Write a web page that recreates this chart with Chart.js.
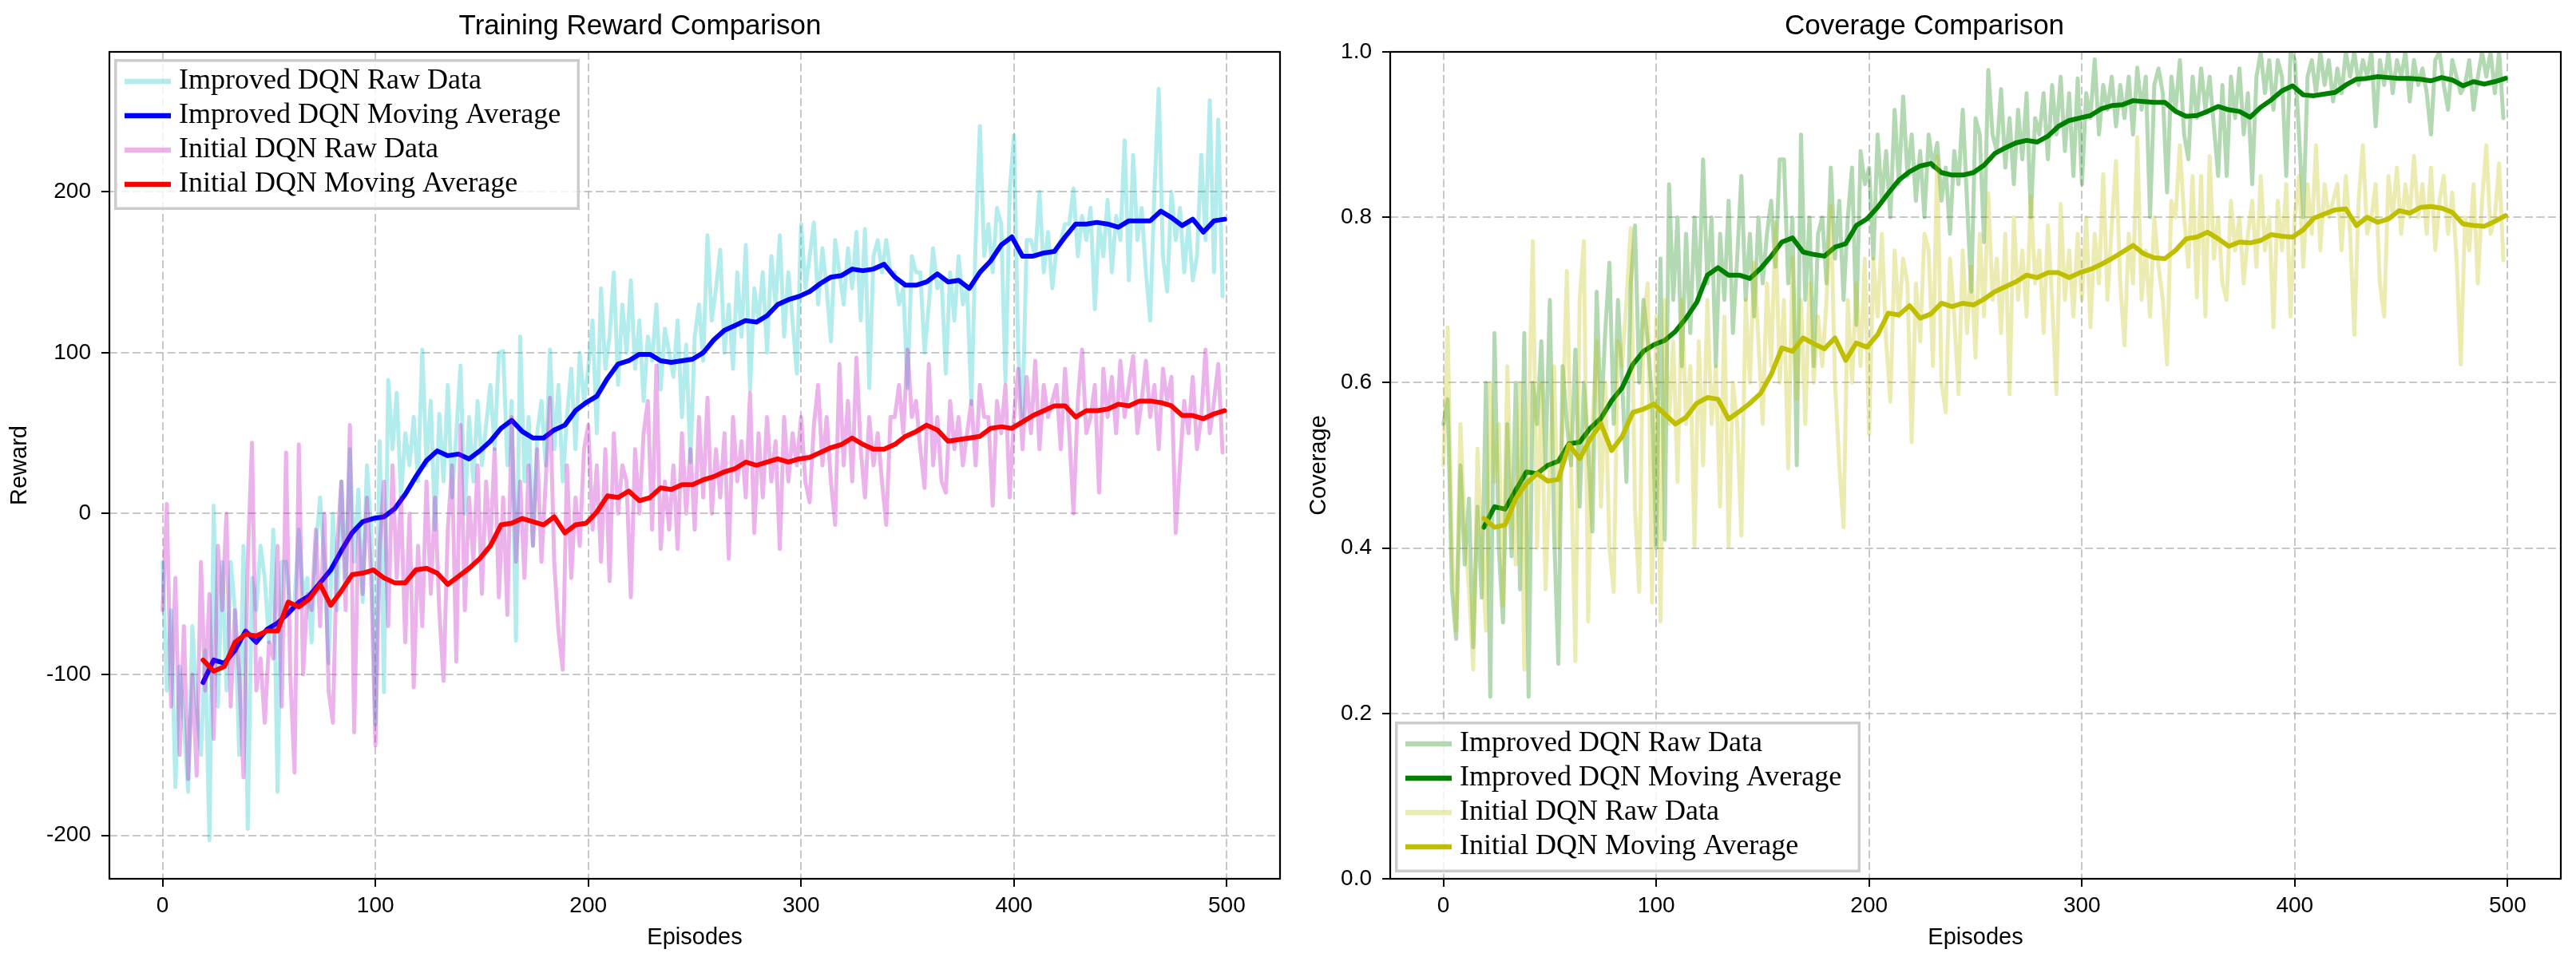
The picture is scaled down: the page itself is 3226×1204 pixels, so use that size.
<!DOCTYPE html>
<html>
<head>
<meta charset="utf-8">
<title>Training Reward / Coverage Comparison</title>
<script src="https://cdn.jsdelivr.net/npm/chart.js@4.4.1/dist/chart.umd.min.js"></script>
<style>
  html, body { margin: 0; padding: 0; background: #fff; overflow: hidden; }
  body { width: 3226px; height: 1204px; position: relative; }
  .panel { position: absolute; top: 0; height: 1204px; }
  #left-panel { left: 0; width: 1740px; }
  #right-panel { left: 1613px; width: 1722px; }
</style>
</head>
<body>
<div class="panel" id="left-panel"><canvas id="rewardChart"></canvas></div>
<div class="panel" id="right-panel"><canvas id="coverageChart"></canvas></div>
<script>
// raw values are read every 2 episodes, moving averages every 5 episodes from episode 19
const rawStep = 2;
const maStart = 19;
const maStep = 5;

const episodeTicks = [0, 100, 200, 300, 400, 500];
const rewardTicks = [-200, -100, 0, 100, 200];
const coverageTicks = [0.0, 0.2, 0.4, 0.6, 0.8, 1.0];

const seriesLabels = [
    "Improved DQN Raw Data",
    "Improved DQN Moving Average",
    "Initial DQN Raw Data",
    "Initial DQN Moving Average",
];

const improvedRewardRaw = [
    -30, -110, -60, -170, -95, -130, -173, -70, -120, -150,
    -85, -203, 5, -120, -30, -110, -30, -60, -150, -20,
    -196, -40, -60, -20, -40, -80, -10, -173, -30, -30,
    -60, -55, -10, -50, -40, -80, -20, 10, -30, -93,
    0, -60, 20, -40, 40, -30, 15, -55, 30, -10,
    -131, 45, -111, 83, 40, 75, 10, 50, 30, 60,
    20, 102, 30, 70, -10, 62, 20, 80, 10, 50,
    92, 0, 60, 20, 70, 30, 55, 80, 40, 100,
    101, 30, 70, -79, 110, 20, 60, -20, 50, 70,
    30, 102, 40, 80, 20, 60, 90, 40, 100, 70,
    90, 120, 50, 140, 90, 110, 150, 80, 130, 100,
    145, 90, 120, 70, 110, 95, 130, 77, 115, 100,
    85, 120, 60, 105, 32, 110, 130, 95, 173, 120,
    140, 164, 100, 130, 90, 150, 110, 167, 77, 140,
    120, 150, 100, 160, 130, 173, 110, 150, 120, 87,
    180, 140, 160, 181, 130, 165, 140, 107, 170, 150,
    130, 165, 140, 175, 120, 177, 78, 160, 170, 150,
    170, 150, 150, 130, 140, 78, 160, 150, 150, 100,
    130, 165, 140, 145, 87, 150, 120, 160, 130, 140,
    68, 170, 241, 160, 180, 150, 190, 180, 82, 200,
    235, 100, 60, 170, 170, 160, 200, 150, 175, 140,
    165, 170, 180, 180, 202, 160, 185, 170, 190, 127,
    180, 160, 195, 150, 185, 170, 232, 145, 223, 170,
    190, 150, 120, 200, 264, 160, 138, 200, 170, 190,
    150, 180, 145, 160, 223, 170, 257, 150, 245, 135,
];

const initialRewardRaw = [
    -60, 6, -120, -40, -150, -70, -165, -100, -163, -30,
    -110, -50, -140, -20, -60, 0, -120, -60, -100, -164,
    -30, 44, -110, -90, -130, -80, -90, -20, -120, 38,
    -100, -161, 43, -100, -50, -60, -10, -70, 0, -110,
    -130, -20, 20, -60, 55, -136, -10, -50, 10, -40,
    -144, -20, 20, -70, 30, -40, 10, -80, 0, -108,
    -20, -70, 20, -50, 10, -60, -104, -10, 30, -92,
    55, -60, 10, -30, 30, -50, 20, -20, 40, -52,
    10, -63, 60, -30, 20, -40, 30, -20, 40, -30,
    20, 72, -30, -73, -97, 30, -40, 10, -20, 40,
    55, -10, 30, -30, 40, -42, 50, 0, 30, 20,
    -52, 40, 0, 50, 70, -10, 92, -22, 20, -10,
    30, -22, 50, 0, 40, -10, 60, 10, 72, 0,
    40, 10, 50, -28, 60, 20, 45, 10, 75, -12,
    50, 10, 60, 20, 45, -22, 60, 20, 50, 30,
    60, 20, 7, 55, 80, 30, 60, 20, -7, 93,
    30, 70, 20, 97, 40, 10, 60, 30, 50, 20,
    -7, 60, 60, 80, 50, 102, 60, 70, 40, 16,
    93, 30, 60, 20, 13, 70, 40, 60, 30, 50,
    70, 30, 80, 60, 60, 5, 70, 50, 80, 10,
    60, 90, 40, 85, 50, 95, 40, 80, 60, 70,
    80, 40, 90, 50, 0, 70, 102, 50, 60, 80,
    13, 90, 60, 85, 50, 95, 60, 80, 98, 50,
    70, 95, 60, 80, 40, 90, 70, 85, -12, 30,
    70, 50, 85, 40, 60, 102, 50, 70, 93, 38,
];

const improvedRewardAvg = [
    -105, -91, -93, -85, -73, -80, -72, -68, -62, -55,
    -51, -43, -35, -23, -12, -5, -3, -2, 3, 12,
    23, 33, 39, 36, 37, 34, 39, 45, 53, 58,
    51, 47, 47, 52, 55, 64, 69, 73, 84, 93,
    95, 99, 99, 95, 94, 95, 96, 100, 108, 114,
    117, 120, 119, 123, 130, 133, 135, 138, 143, 147,
    148, 152, 151, 152, 155, 147, 142, 142, 144, 149,
    144, 145, 140, 150, 157, 167, 172, 160, 160, 162,
    163, 172, 180, 180, 181, 180, 178, 182, 182, 182,
    188, 184, 179, 183, 175, 182, 183,
];

const initialRewardAvg = [
    -91, -98, -95, -80, -75, -76, -73, -73, -55, -58,
    -53, -44, -57, -48, -38, -37, -35, -40, -43, -43,
    -35, -34, -37, -44, -39, -34, -28, -20, -7, -6,
    -3, -5, -7, -2, -12, -7, -6, 1, 11, 10,
    14, 8, 10, 16, 15, 18, 18, 21, 23, 26,
    28, 32, 30, 32, 34, 32, 34, 35, 38, 41,
    43, 47, 43, 40, 40, 43, 48, 51, 55, 52,
    45, 46, 47, 48, 53, 54, 53, 57, 61, 64,
    67, 67, 60, 64, 64, 65, 68, 67, 70, 70,
    69, 67, 61, 61, 59, 62, 64,
];

const improvedCoverageRaw = [
    0.55, 0.58, 0.35, 0.29, 0.50, 0.38, 0.46, 0.28, 0.45, 0.34,
    0.60, 0.22, 0.66, 0.40, 0.31, 0.55, 0.39, 0.60, 0.35, 0.66,
    0.22, 0.60, 0.55, 0.65, 0.50, 0.70, 0.42, 0.26, 0.62, 0.55,
    0.50, 0.64, 0.45, 0.60, 0.52, 0.42, 0.71, 0.55, 0.66, 0.745,
    0.55, 0.70, 0.60, 0.48, 0.72, 0.79, 0.60, 0.70, 0.65, 0.58,
    0.40, 0.75, 0.41, 0.84, 0.70, 0.80, 0.62, 0.78, 0.66, 0.80,
    0.70, 0.87, 0.72, 0.80, 0.62, 0.78, 0.70, 0.82, 0.66, 0.75,
    0.85, 0.70, 0.78, 0.68, 0.80, 0.72, 0.78, 0.82, 0.74, 0.87,
    0.87, 0.72, 0.80, 0.50, 0.90, 0.70, 0.80, 0.62, 0.78, 0.80,
    0.72, 0.86, 0.75, 0.82, 0.70, 0.80, 0.86, 0.67, 0.88, 0.84,
    0.86, 0.75, 0.90, 0.82, 0.88, 0.80, 0.93, 0.84, 0.946, 0.85,
    0.90, 0.82, 0.88, 0.80, 0.90, 0.86, 0.89, 0.82, 0.86, 0.78,
    0.88, 0.84, 0.93, 0.82, 0.71, 0.92, 0.90, 0.77, 0.978, 0.90,
    0.88, 0.955, 0.86, 0.92, 0.84, 0.93, 0.87, 0.95, 0.80, 0.92,
    0.90, 0.95, 0.87, 0.96, 0.90, 0.97, 0.88, 0.95, 0.85, 0.968,
    0.84, 0.95, 0.92, 0.991, 0.90, 0.96, 0.93, 0.97, 0.91, 0.96,
    0.92, 0.97, 0.90, 0.981, 0.93, 0.97, 0.80, 0.96, 0.98, 0.95,
    0.83, 0.97, 0.93, 0.99, 0.90, 0.87, 0.97, 0.92, 0.98, 0.93,
    0.97, 0.91, 0.85, 0.96, 0.85, 0.97, 0.92, 0.98, 0.90, 0.95,
    0.84, 0.97, 1.0, 0.95, 0.99, 0.93, 0.99, 0.97, 0.85, 1.0,
    0.99, 0.90, 0.80, 0.97, 0.99, 0.95, 1.0, 0.96, 0.99, 0.94,
    0.98, 0.95, 1.0, 0.97, 1.0, 0.96, 0.99, 0.97, 1.0, 0.91,
    0.99, 0.96, 1.0, 0.95, 0.99, 0.97, 1.0, 0.94, 0.99, 0.96,
    0.98, 0.95, 0.90, 0.99, 1.0, 0.96, 0.93, 0.99, 0.97, 0.95,
    0.96, 0.99, 0.93, 0.97, 1.0, 0.97, 1.0, 0.95, 1.0, 0.92,
];

const initialCoverageRaw = [
    0.50, 0.667, 0.40, 0.30, 0.55, 0.42, 0.35, 0.253, 0.52, 0.40,
    0.30, 0.60, 0.48, 0.55, 0.33, 0.62, 0.45, 0.38, 0.60, 0.253,
    0.55, 0.771, 0.40, 0.60, 0.35, 0.50, 0.62, 0.40, 0.55, 0.735,
    0.50, 0.263, 0.70, 0.771, 0.311, 0.55, 0.65, 0.45, 0.60, 0.40,
    0.347, 0.65, 0.62, 0.70, 0.787, 0.45, 0.347, 0.68, 0.72, 0.334,
    0.68, 0.311, 0.70, 0.55, 0.65, 0.48, 0.70, 0.55, 0.62, 0.402,
    0.65, 0.50, 0.70, 0.55, 0.62, 0.45, 0.68, 0.402, 0.60, 0.55,
    0.415, 0.70, 0.60, 0.745, 0.65, 0.55, 0.72, 0.62, 0.794, 0.60,
    0.70, 0.496, 0.751, 0.58, 0.70, 0.55, 0.72, 0.60, 0.68, 0.62,
    0.70, 0.813, 0.60, 0.50, 0.425, 0.70, 0.60, 0.72, 0.62, 0.75,
    0.538, 0.75, 0.68, 0.78, 0.65, 0.577, 0.76, 0.68, 0.75, 0.72,
    0.528, 0.72, 0.65, 0.78, 0.76, 0.62, 0.874, 0.60, 0.564, 0.75,
    0.68, 0.586, 0.76, 0.66, 0.74, 0.63, 0.78, 0.68, 0.829, 0.70,
    0.75, 0.66, 0.78, 0.586, 0.80, 0.70, 0.76, 0.68, 0.826, 0.72,
    0.76, 0.66, 0.79, 0.70, 0.586, 0.816, 0.70, 0.76, 0.68, 0.78,
    0.70, 0.80, 0.667, 0.78, 0.72, 0.852, 0.70, 0.79, 0.868, 0.72,
    0.645, 0.78, 0.72, 0.897, 0.70, 0.76, 0.68, 0.80, 0.74, 0.70,
    0.622, 0.82, 0.80, 0.887, 0.80, 0.74, 0.85, 0.703, 0.85, 0.68,
    0.874, 0.75, 0.80, 0.72, 0.70, 0.82, 0.76, 0.80, 0.72, 0.78,
    0.82, 0.74, 0.85, 0.76, 0.80, 0.667, 0.82, 0.76, 0.84, 0.68,
    0.80, 0.85, 0.74, 0.84, 0.78, 0.887, 0.76, 0.84, 0.80, 0.82,
    0.84, 0.76, 0.85, 0.78, 0.658, 0.82, 0.887, 0.78, 0.80, 0.84,
    0.72, 0.68, 0.85, 0.80, 0.86, 0.78, 0.84, 0.80, 0.874, 0.80,
    0.84, 0.78, 0.86, 0.76, 0.82, 0.85, 0.78, 0.83, 0.75, 0.622,
    0.80, 0.76, 0.84, 0.72, 0.82, 0.887, 0.78, 0.80, 0.865, 0.748,
];

const improvedCoverageAvg = [
    0.425, 0.45, 0.447, 0.47, 0.492, 0.49, 0.50, 0.505, 0.526, 0.528,
    0.545, 0.557, 0.578, 0.594, 0.622, 0.638, 0.646, 0.651, 0.662, 0.678,
    0.697, 0.73, 0.739, 0.73, 0.73, 0.726, 0.738, 0.753, 0.77, 0.775,
    0.758, 0.755, 0.753, 0.764, 0.768, 0.79, 0.798, 0.812, 0.829, 0.845,
    0.855, 0.862, 0.865, 0.854, 0.851, 0.851, 0.854, 0.863, 0.877, 0.884,
    0.89, 0.893, 0.891, 0.898, 0.91, 0.917, 0.92, 0.923, 0.931, 0.935,
    0.936, 0.941, 0.94, 0.939, 0.939, 0.928, 0.922, 0.923, 0.928, 0.934,
    0.93, 0.928, 0.921, 0.933, 0.942, 0.953, 0.959, 0.948, 0.947, 0.949,
    0.951, 0.96, 0.967, 0.968, 0.97, 0.969, 0.968, 0.968, 0.967, 0.965,
    0.969, 0.966, 0.959, 0.964, 0.961, 0.964, 0.968,
];

const initialCoverageAvg = [
    0.436, 0.425, 0.428, 0.46, 0.478, 0.49, 0.481, 0.483, 0.525, 0.508,
    0.532, 0.55, 0.518, 0.535, 0.564, 0.568, 0.574, 0.562, 0.55, 0.558,
    0.575, 0.582, 0.58, 0.556, 0.565, 0.575, 0.587, 0.61, 0.642, 0.638,
    0.654, 0.647, 0.641, 0.654, 0.627, 0.648, 0.643, 0.658, 0.684, 0.682,
    0.693, 0.678, 0.683, 0.696, 0.692, 0.696, 0.694, 0.701, 0.71, 0.716,
    0.722, 0.73, 0.727, 0.733, 0.733, 0.727, 0.733, 0.737, 0.743, 0.75,
    0.758, 0.766, 0.756, 0.751, 0.75, 0.76, 0.774, 0.776, 0.782, 0.774,
    0.765, 0.77, 0.769, 0.772, 0.779, 0.777, 0.776, 0.785, 0.799, 0.804,
    0.809, 0.81, 0.79, 0.8, 0.794, 0.798, 0.808, 0.805, 0.812, 0.813,
    0.811, 0.806, 0.792, 0.79, 0.789, 0.795, 0.802,
];

const sansFont = "'Liberation Sans', Arial, Helvetica, sans-serif";
const serifFont = "'Liberation Serif', 'Times New Roman', serif";
const gridColor = "rgba(176,176,176,0.7)";

let toPoints = (values, start, step) => values.map((y, i) => ({ x: start + i * step, y: y }));

let lineSet = (label, values, start, step, color, width, order) => ({
    label: label,
    data: toPoints(values, start, step),
    borderColor: color,
    backgroundColor: color,
    borderWidth: width,
    borderJoinStyle: "round",
    borderCapStyle: "round",
    pointRadius: 0,
    tension: 0,
    fill: false,
    order: order,
});

// black box round the plot area, like the four spines
const axesFrame = {
    id: "axesFrame",
    afterDatasetsDraw(chart) {
        const { ctx, chartArea: a } = chart;
        ctx.save();
        ctx.strokeStyle = "#000";
        ctx.lineWidth = 2.2;
        ctx.strokeRect(a.left, a.top, a.right - a.left, a.bottom - a.top);
        ctx.restore();
    },
};

// framed legend inside the plot area
const boxLegend = {
    id: "boxLegend",
    afterDraw(chart, args, opts) {
        const { ctx, chartArea: a } = chart;
        const sets = chart.data.datasets;
        ctx.save();
        ctx.font = "36px " + serifFont;
        const textW = Math.max(...sets.map(d => ctx.measureText(d.label).width));
        const w = Math.max(583, 81 + textW + 18);
        const h = 189;
        const x = a.left + 6;
        const y = opts.corner === "top" ? a.top + 9 : a.bottom - 8 - h;

        ctx.fillStyle = "rgba(255,255,255,0.8)";
        ctx.fillRect(x, y, w, h);
        ctx.strokeStyle = "#cccccc";
        ctx.lineWidth = 3.5;
        ctx.strokeRect(x + 1.75, y + 1.75, w - 3.5, h - 3.5);

        sets.forEach((d, i) => {
            const cy = y + h / 2 + (i - 1.5) * 43 - 2;
            ctx.strokeStyle = d.borderColor;
            ctx.lineWidth = 6.5;
            ctx.lineCap = "butt";
            ctx.beginPath();
            ctx.moveTo(x + 13, cy);
            ctx.lineTo(x + 71, cy);
            ctx.stroke();
            ctx.fillStyle = "#000";
            ctx.textBaseline = "alphabetic";
            ctx.fillText(d.label, x + 81, cy + 9);
        });
        ctx.restore();
    },
};

let makeOptions = (cfg) => ({
    responsive: true,
    maintainAspectRatio: false,
    animation: false,
    devicePixelRatio: 1,
    events: [],
    layout: { padding: { left: 0, right: cfg.yWidth, top: 0, bottom: 0 } },
    plugins: {
        legend: { display: false },
        tooltip: { enabled: false },
        title: {
            display: true,
            text: cfg.title,
            color: "#000",
            font: { family: sansFont, size: 35, weight: "normal" },
            padding: { top: 12, bottom: 11 },
        },
        boxLegend: { corner: cfg.legendCorner },
    },
    scales: {
        x: {
            type: "linear",
            min: -25,
            max: 525,
            afterFit: (scale) => { scale.height = 103; },
            afterBuildTicks: (scale) => { scale.ticks = episodeTicks.map(v => ({ value: v })); },
            ticks: {
                color: "#000",
                font: { family: sansFont, size: 28 },
                padding: 7.5,
                maxRotation: 0,
                autoSkip: false,
            },
            grid: {
                color: gridColor,
                lineWidth: 2,
                drawTicks: true,
                tickLength: 10,
                tickColor: "#000",
                tickWidth: 2,
            },
            border: { display: false, dash: [10, 4.5] },
            title: {
                display: true,
                text: "Episodes",
                color: "#000",
                font: { family: sansFont, size: 29 },
                padding: { top: 0, bottom: 11.6 },
            },
        },
        y: {
            type: "linear",
            min: cfg.yMin,
            max: cfg.yMax,
            afterFit: (scale) => { scale.width = cfg.yWidth; },
            afterBuildTicks: (scale) => { scale.ticks = cfg.yTicks.map(v => ({ value: v })); },
            ticks: {
                color: "#000",
                font: { family: sansFont, size: 28 },
                padding: 13,
                autoSkip: false,
                callback: cfg.tickFormat,
            },
            grid: {
                color: gridColor,
                lineWidth: 2,
                drawTicks: true,
                tickLength: 10,
                tickColor: "#000",
                tickWidth: 2,
            },
            border: { display: false, dash: [10, 4.5] },
            title: {
                display: true,
                text: cfg.yLabel,
                color: "#000",
                font: { family: sansFont, size: 29 },
                padding: { top: cfg.yTitlePad, bottom: 0 },
            },
        },
    },
});

let rewardChart = new Chart(document.getElementById("rewardChart"), {
    type: "line",
    data: {
        datasets: [
            lineSet(seriesLabels[0], improvedRewardRaw, 0, rawStep, "rgba(0,191,191,0.3)", 5, 3),
            lineSet(seriesLabels[1], improvedRewardAvg, maStart, maStep, "#0000ff", 6, 2),
            lineSet(seriesLabels[2], initialRewardRaw, 0, rawStep, "rgba(191,0,191,0.3)", 5, 1),
            lineSet(seriesLabels[3], initialRewardAvg, maStart, maStep, "#ff0000", 6, 0),
        ],
    },
    options: makeOptions({
        title: "Training Reward Comparison",
        yLabel: "Reward",
        yMin: -227,
        yMax: 287,
        yTicks: rewardTicks,
        yWidth: 137,
        yTitlePad: 7.6,
        legendCorner: "top",
        tickFormat: (v) => String(v),
    }),
    plugins: [axesFrame, boxLegend],
});

let coverageChart = new Chart(document.getElementById("coverageChart"), {
    type: "line",
    data: {
        datasets: [
            lineSet(seriesLabels[0], improvedCoverageRaw, 0, rawStep, "rgba(0,128,0,0.3)", 5, 3),
            lineSet(seriesLabels[1], improvedCoverageAvg, maStart, maStep, "#008000", 6, 2),
            lineSet(seriesLabels[2], initialCoverageRaw, 0, rawStep, "rgba(191,191,0,0.3)", 5, 1),
            lineSet(seriesLabels[3], initialCoverageAvg, maStart, maStep, "#bfbf00", 6, 0),
        ],
    },
    options: makeOptions({
        title: "Coverage Comparison",
        yLabel: "Coverage",
        yMin: 0,
        yMax: 1,
        yTicks: coverageTicks,
        yWidth: 128,
        yTitlePad: 21.6,
        legendCorner: "bottom",
        tickFormat: (v) => Number(v).toFixed(1),
    }),
    plugins: [axesFrame, boxLegend],
});
</script>
</body>
</html>
